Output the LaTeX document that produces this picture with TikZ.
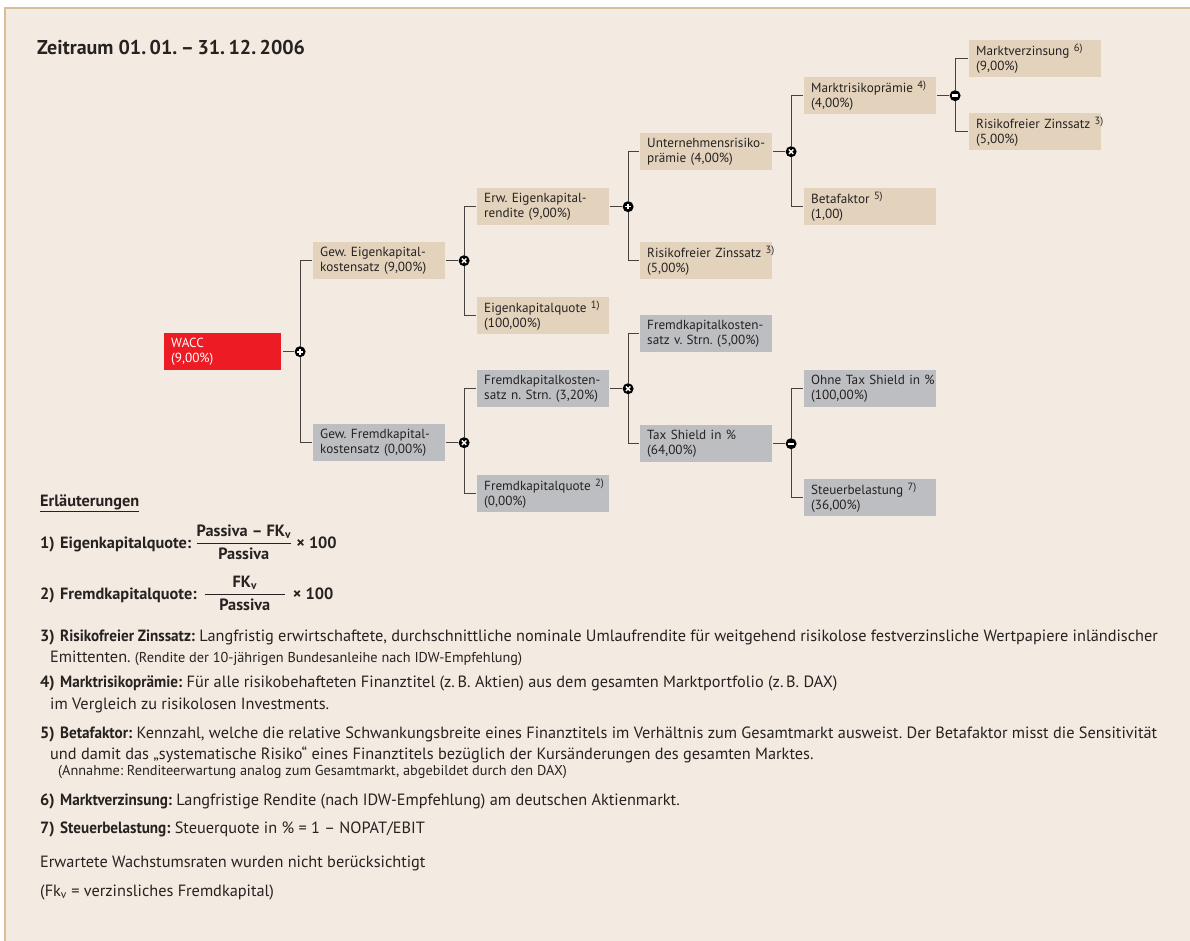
\documentclass[tikz,border=0pt]{standalone}
\usepackage{fontspec}
\setmainfont{PT Sans}
\newfontfamily\labelfont{PT Sans}[FakeStretch=0.93]
\usepackage{xcolor}
\definecolor{pagebeige}{RGB}{243,235,225}
\definecolor{frametan}{RGB}{217,190,155}
\definecolor{boxtan}{RGB}{227,211,189}
\definecolor{boxgrey}{RGB}{189,190,194}
\definecolor{waccred}{RGB}{237,28,36}
\definecolor{inkdark}{RGB}{38,34,33}
\definecolor{linegrey}{RGB}{70,66,64}
\usepackage{tikz}
\usetikzlibrary{positioning}
\pgfdeclarelayer{paper}
\pgfdeclarelayer{background}
\pgfsetlayers{paper,background,main}
\frenchspacing
\newcommand{\widthbox}{132pt}
\newcommand{\heightbox}{37pt}
\newcommand{\boxfont}{\fontsize{13.2}{15.5}\selectfont\hyphenpenalty=10000 }
\newcommand{\notefont}{\fontsize{16.3}{22}\selectfont}
\newcommand{\smallnote}{\fontsize{14.3}{16}\selectfont}
\newcommand{\fn}[1]{\mbox{}~\raisebox{3.8pt}{\fontsize{10.5}{10.5}\selectfont #1}}
\newcommand{\notenum}[1]{\makebox[20pt][l]{\bfseries #1}}
\newcommand{\notelabel}[1]{{\labelfont\bfseries #1}}
\newcommand{\dsp}{\hspace{3.5pt}}
\tikzset{
    common/.style={anchor=north west, rectangle, minimum width=\widthbox, minimum height=\heightbox,
        text width=118pt, inner xsep=7pt, inner ysep=0pt, align=left, text=inkdark, font=\boxfont},
    tanbox/.style={common, fill=boxtan},
    greybox/.style={common, fill=boxgrey},
    redbox/.style={common, fill=waccred, text=white, minimum width=117pt, text width=103pt},
    op/.style={circle, fill=black, inner sep=0pt, minimum size=11pt},
    opplus/.style={op, path picture={
            \draw[white, line width=1.6pt]
                (path picture bounding box.center) +(-2.8pt,0pt) -- +(2.8pt,0pt)
                (path picture bounding box.center) +(0pt,-2.8pt) -- +(0pt,2.8pt);
        }},
    optimes/.style={op, path picture={
            \draw[white, line width=1.4pt]
                (path picture bounding box.center) +(-2.2pt,-2.2pt) -- +(2.2pt,2.2pt)
                (path picture bounding box.center) +(-2.2pt,2.2pt) -- +(2.2pt,-2.2pt);
        }},
    opminus/.style={op, path picture={
            \draw[white, line width=2.4pt]
                (path picture bounding box.center) +(-3.2pt,0pt) -- +(3.2pt,0pt);
        }},
    conn/.style={draw=linegrey, line width=1.2pt},
    heading/.style={anchor=base west, inner sep=0pt, text=inkdark, font=\fontsize{20}{22}\selectfont\bfseries},
    expl/.style={anchor=base west, inner sep=0pt, text=inkdark, font=\notefont}
}

\begin{document}
\begin{tikzpicture}[x=1pt, y=-1pt]
    \useasboundingbox (0,0) rectangle (1190,941);
    \begin{pgfonlayer}{paper}
        \fill[white] (0,0) rectangle (1190,941);
        \fill[pagebeige] (5,8) rectangle (1190,941);
        \draw[frametan, line width=2pt] (5,941) -- (5,8) -- (1190,8);
    \end{pgfonlayer}

    \node[heading] (zeitraum) at (37,55) {Zeitraum 01.\dsp01.\dsp–\dsp31.\dsp12.\dsp2006};

    % equity side
    \node[redbox] (wacc) at (164,333) {WACC\\(9,00\%)};
    \node[tanbox] (gewek) at (313,242) {Gew. Eigenkapital-\\kostensatz (9,00\%)};
    \node[tanbox] (erwek) at (477,188) {Erw. Eigenkapital-\\rendite (9,00\%)};
    \node[tanbox] (ekquote) at (477,297) {Eigenkapitalquote\fn{1)}\\(100,00\%)};
    \node[tanbox] (urp) at (640,133) {Unternehmensrisiko-\\prämie (4,00\%)};
    \node[tanbox] (rfz) at (640,242) {\mbox{Risikofreier Zinssatz\fn{3)}}\\(5,00\%)};
    \node[tanbox] (mrp) at (804,77) {Marktrisikoprämie\fn{4)}\\(4,00\%)};
    \node[tanbox] (beta) at (804,188) {Betafaktor\fn{5)}\\(1,00)};
    \node[tanbox] (mvz) at (969,40) {Marktverzinsung\fn{6)}\\(9,00\%)};
    \node[tanbox] (rfzb) at (969,113) {\mbox{Risikofreier Zinssatz\fn{3)}}\\(5,00\%)};
    % debt side
    \node[greybox] (gewfk) at (313,424) {Gew. Fremdkapital-\\kostensatz (0,00\%)};
    \node[greybox] (fkn) at (477,370) {Fremdkapitalkosten-\\satz n. Strn. (3,20\%)};
    \node[greybox] (fkquote) at (477,475) {Fremdkapitalquote\fn{2)}\\(0,00\%)};
    \node[greybox] (fkv) at (640,315) {Fremdkapitalkosten-\\satz v. Strn. (5,00\%)};
    \node[greybox] (tax) at (640,425) {Tax Shield in \%\\(64,00\%)};
    \node[greybox] (ohne) at (804,370) {\mbox{Ohne Tax Shield in \%}\\(100,00\%)};
    \node[greybox] (steuer) at (804,479) {Steuerbelastung\fn{7)}\\(36,00\%)};

    \node[opplus, right=13pt of wacc] (opwacc) {};
    \node[optimes, right=13pt of gewek] (opek) {};
    \node[optimes, right=13pt of gewfk] (opfk) {};
    \node[opplus, right=13pt of erwek] (operw) {};
    \node[optimes, right=13pt of urp] (opurp) {};
    \node[opminus, right=13pt of mrp] (opmrp) {};
    \node[optimes, right=13pt of fkn] (opfkn) {};
    \node[opminus, right=13pt of tax] (optax) {};

    \begin{pgfonlayer}{background}
        \draw[conn] ([xshift=2pt]wacc.east) -- (opwacc) (opwacc) |- ([xshift=-1.5pt]gewek.west) (opwacc) |- ([xshift=-1.5pt]gewfk.west);
        \draw[conn] ([xshift=1pt]gewek.east) -- (opek) (opek) |- ([xshift=-1.5pt]erwek.west) (opek) |- ([xshift=-1.5pt]ekquote.west);
        \draw[conn] ([xshift=1pt]erwek.east) -- (operw) (operw) |- ([xshift=-1.5pt]urp.west) (operw) |- ([xshift=-1.5pt]rfz.west);
        \draw[conn] ([xshift=1pt]urp.east) -- (opurp) (opurp) |- ([xshift=-1.5pt]mrp.west) (opurp) |- ([xshift=-1.5pt]beta.west);
        \draw[conn] ([xshift=1pt]mrp.east) -- (opmrp) (opmrp) |- ([xshift=-1.5pt]mvz.west) (opmrp) |- ([xshift=-1.5pt]rfzb.west);
        \draw[conn] ([xshift=1pt]gewfk.east) -- (opfk) (opfk) |- ([xshift=-1.5pt]fkn.west) (opfk) |- ([xshift=-1.5pt]fkquote.west);
        \draw[conn] ([xshift=1pt]fkn.east) -- (opfkn) (opfkn) |- ([xshift=-1.5pt]fkv.west) (opfkn) |- ([xshift=-1.5pt]tax.west);
        \draw[conn] ([xshift=1pt]tax.east) -- (optax) (optax) |- ([xshift=-1.5pt]ohne.west) (optax) |- ([xshift=-1.5pt]steuer.west);
    \end{pgfonlayer}

    % notes
    \node[expl] (erl) at (40,506) {\bfseries\underline{Erläuterungen}};
    \node[expl] (note1) at (40,548) {\notenum{1)}\textbf{Eigenkapitalquote: $\displaystyle\frac{\mbox{Passiva – FK\textsubscript{v}}}{\mbox{Passiva}}$ × 100}};
    \node[expl] (note2) at (40,599) {\notenum{2)}\textbf{Fremdkapitalquote:\, $\displaystyle\frac{\makebox[80pt]{FK\textsubscript{v}}}{\mbox{Passiva}}$\, × 100}};
    \node[expl] (note3) at (40,641) {\notenum{3)}\notelabel{Risikofreier Zinssatz:} Langfristig erwirtschaftete, durchschnittliche nominale Umlaufrendite für weitgehend risikolose festverzinsliche Wertpapiere inländischer};
    \node[expl] (note3b) at (50,662) {Emittenten. {\smallnote (Rendite der 10-jährigen Bundesanleihe nach IDW-Empfehlung)}};
    \node[expl] (note4) at (40,687) {\notenum{4)}\notelabel{Marktrisikoprämie:} Für alle risikobehafteten Finanztitel (z.\,B. Aktien) aus dem gesamten Marktportfolio (z.\,B. DAX)};
    \node[expl] (note4b) at (50,709) {im Vergleich zu risikolosen Investments.};
    \node[expl] (note5) at (40,738) {\notenum{5)}\notelabel{Betafaktor:} Kennzahl, welche die relative Schwankungsbreite eines Finanztitels im Verhältnis zum Gesamtmarkt ausweist. Der Betafaktor misst die Sensitivität};
    \node[expl] (note5b) at (50,759) {und damit das „systematische Risiko“ eines Finanztitels bezüglich der Kursänderungen des gesamten Marktes.};
    \node[expl, font=\smallnote] (note5c) at (58,775) {(Annahme: Renditeerwartung analog zum Gesamtmarkt, abgebildet durch den DAX)};
    \node[expl] (note6) at (40,805) {\notenum{6)}\notelabel{Marktverzinsung:} Langfristige Rendite (nach IDW-Empfehlung) am deutschen Aktienmarkt.};
    \node[expl] (note7) at (40,833) {\notenum{7)}\notelabel{Steuerbelastung:} Steuerquote in \% = 1 – NOPAT/EBIT};
    \node[expl] (wachstum) at (40,867) {Erwartete Wachstumsraten wurden nicht berücksichtigt};
    \node[expl] (fkvnote) at (40,896) {(Fk\textsubscript{v} = verzinsliches Fremdkapital)};
\end{tikzpicture}
\end{document}
